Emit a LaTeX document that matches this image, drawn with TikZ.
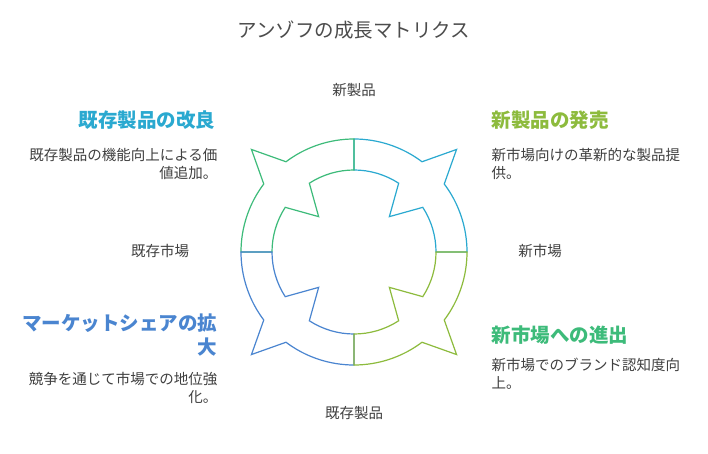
\documentclass[tikz,border=0pt]{standalone}
\usepackage{fontspec}
\setmainfont{Noto Sans CJK JP}
\begin{document}
\begin{tikzpicture}[x=1pt,y=-1pt,
 lab/.style={font=\fontsize{14.5}{17}\selectfont,text=black!75},
 head/.style={font=\fontsize{19.5}{24}\selectfont\bfseries},
 body/.style={font=\fontsize{14.5}{18}\selectfont,text=black!75},
 quad/.style={line width=1.2pt,line join=miter}]
\definecolor{cTR}{RGB}{42,169,208}
\definecolor{cTL}{RGB}{61,187,122}
\definecolor{cBL}{RGB}{74,133,208}
\definecolor{cBR}{RGB}{141,187,61}
\useasboundingbox (0,0) rectangle (708,454);
\fill[white] (0,0) rectangle (708,454);
\coordinate (c) at (354,252);
\foreach \b/\col in {0/cTR,270/cTL,180/cBL,90/cBR}{
 \begin{scope}[shift={(c)},yscale=-1,rotate=\b]
  \draw[quad,\col] (90:113) arc[start angle=90,end angle=53,radius=113]
   -- (45:145) -- (37:113) arc[start angle=37,end angle=0,radius=113]
   -- (0:82) arc[start angle=0,end angle=33,radius=82]
   -- (45:50) -- (57:82) arc[start angle=57,end angle=90,radius=82] -- cycle;
 \end{scope}}
\node[font=\fontsize{19.5}{22}\selectfont,text=black!70] (t) at (354,30) {アンゾフの成長マトリクス};
\node[lab] (np) at (354,90) {新製品};
\node[lab] (em) at (160,251) {既存市場};
\node[lab] (nm) at (540,251) {新市場};
\node[lab] (ep) at (354,413) {既存製品};
\node[head,text=cTR,anchor=east] (h1) at (219,120) {既存製品の改良};
\node[body,anchor=north east,align=right] (b1) at (221,145) {既存製品の機能向上による価\\値追加。};
\node[head,text=cBR,anchor=west] (h2) at (488,120) {新製品の発売};
\node[body,anchor=north west,align=left] (b2) at (488,145) {新市場向けの革新的な製品提\\供。};
\node[head,text=cBL,anchor=north east,align=right] (h3) at (221,310) {マーケットシェアの拡\\大};
\node[body,anchor=north east,align=right] (b3) at (221,369) {競争を通じて市場での地位強\\化。};
\node[head,text=cTL,anchor=west] (h4) at (488,335) {新市場への進出};
\node[body,anchor=north west,align=left] (b4) at (488,355) {新市場でのブランド認知度向\\上。};
\end{tikzpicture}
\end{document}
